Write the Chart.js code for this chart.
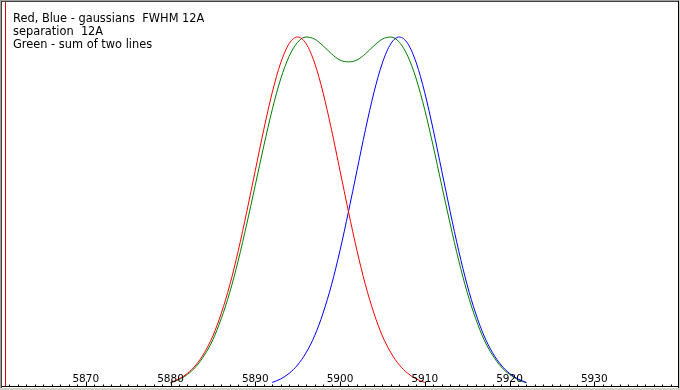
<!DOCTYPE html>
<html>
<head>
<meta charset="utf-8">
<script src="https://cdn.jsdelivr.net/npm/chart.js@4"></script>
<style>
  html, body { margin: 0; padding: 0; background: #fff; }
  #wrap { width: 680px; height: 390px; position: relative; }
</style>
</head>
<body>
<div id="wrap"><canvas id="gauss" width="680" height="390"></canvas></div>
<script>
// wavelength grid (A), one point per angstrom
const wavelengths = [
  5880, 5881, 5882, 5883, 5884, 5885, 5886, 5887, 5888, 5889,
  5890, 5891, 5892, 5893, 5894, 5895, 5896, 5897, 5898, 5899,
  5900, 5901, 5902, 5903, 5904, 5905, 5906, 5907, 5908, 5909,
  5910, 5911, 5912, 5913, 5914, 5915, 5916, 5917, 5918, 5919,
  5920, 5921, 5922
];

// red line, centre ~5895
const redLine = [
  0.013, 0.023, 0.039, 0.063, 0.098, 0.146, 0.211, 0.292, 0.390, 0.501,
  0.618, 0.735, 0.841, 0.926, 0.981, 1.000, 0.981, 0.926, 0.841, 0.735,
  0.618, 0.501, 0.390, 0.292, 0.211, 0.146, 0.098, 0.063, 0.039, 0.023,
  0.013, null, null, null, null, null, null, null, null, null,
  null, null, null
];

// blue line, centre ~5907
const blueLine = [
  null, null, null, null, null, null, null, null, null, null,
  null, null, 0.013, 0.023, 0.039, 0.063, 0.098, 0.146, 0.211, 0.292,
  0.390, 0.501, 0.618, 0.735, 0.841, 0.926, 0.981, 1.000, 0.981, 0.926,
  0.841, 0.735, 0.618, 0.501, 0.390, 0.292, 0.211, 0.146, 0.098, 0.063,
  0.039, 0.023, 0.013
];

// green = sum of both, scaled to the same peak
const greenSum = [
  0.012, 0.021, 0.036, 0.058, 0.091, 0.135, 0.196, 0.271, 0.362, 0.466,
  0.576, 0.688, 0.792, 0.880, 0.945, 0.985, 1.000, 0.994, 0.975, 0.952,
  0.934, 0.929, 0.934, 0.952, 0.975, 0.994, 1.000, 0.985, 0.945, 0.880,
  0.792, 0.688, 0.576, 0.466, 0.362, 0.271, 0.196, 0.135, 0.091, 0.058,
  0.036, 0.021, 0.012
];

const tickLabels = [5870, 5880, 5890, 5900, 5910, 5920, 5930];
const noteLines = [
  'Red, Blue - gaussians  FWHM 12A',
  'separation  12A',
  'Green - sum of two lines'
];
const markerPos = 5860.5;

function toPoints(values) {
  return wavelengths
    .map((w, i) => ({ x: w, y: values[i] }))
    .filter(p => p.y !== null);
}

const TICK_FONT = '10.5px "DejaVu Sans", Tahoma, sans-serif';
const NOTE_FONT = '11.4px "DejaVu Sans", Tahoma, sans-serif';

// frame, axis, ticks, marker and notes
const framePlugin = {
  id: 'frame',
  beforeDraw(chart) {
    const c = chart.ctx;
    c.save();
    c.fillStyle = '#fff';
    c.fillRect(0, 0, chart.width, chart.height);
    c.restore();
  },
  afterDraw(chart) {
    const c = chart.ctx;
    const xs = chart.scales.x;
    const W = chart.width, H = chart.height;
    const axisY = 386.5;
    c.save();

    // marker line
    const mx = Math.round(xs.getPixelForValue(markerPos)) + 0.5;
    c.strokeStyle = '#e00000';
    c.lineWidth = 1;
    c.beginPath();
    c.moveTo(mx, 2);
    c.lineTo(mx, axisY);
    c.stroke();

    // axis line + ticks
    c.strokeStyle = '#000';
    c.beginPath();
    c.moveTo(0, axisY);
    c.lineTo(W, axisY);
    for (let v = 5860; v <= 5940; v++) {
      const px = Math.round(xs.getPixelForValue(v)) + 0.5;
      const len = v % 10 === 0 ? 5 : 2;
      c.moveTo(px, axisY);
      c.lineTo(px, axisY - len);
    }
    c.stroke();

    // tick labels
    c.fillStyle = '#000';
    c.font = TICK_FONT;
    c.textAlign = 'center';
    c.textBaseline = 'alphabetic';
    tickLabels.forEach(t => {
      c.fillText(String(t), xs.getPixelForValue(t), 382);
    });

    // notes
    c.font = NOTE_FONT;
    c.textAlign = 'left';
    noteLines.forEach((line, i) => {
      c.fillText(line, 13, 22 + i * 13);
    });

    // sunken border
    c.fillStyle = '#a0a0a0';
    c.fillRect(0, 0, W, 1);
    c.fillRect(0, 0, 1, H);
    c.fillStyle = '#404040';
    c.fillRect(1, 1, W - 2, 1);
    c.fillRect(1, 1, 1, H - 2);
    c.fillStyle = '#000';
    c.fillRect(W - 2, 1, 1, H - 2);
    c.fillStyle = '#d4d0c8';
    c.fillRect(W - 1, 0, 1, H);
    c.fillRect(0, H - 2, W, 2);
    c.restore();
  }
};

new Chart(document.getElementById('gauss'), {
  type: 'line',
  data: {
    datasets: [
      {
        label: 'red',
        data: toPoints(redLine),
        borderColor: '#ff0000',
        borderWidth: 1,
        pointRadius: 0,
        cubicInterpolationMode: 'monotone',
        fill: false
      },
      {
        label: 'blue',
        data: toPoints(blueLine),
        borderColor: '#0000ff',
        borderWidth: 1,
        pointRadius: 0,
        cubicInterpolationMode: 'monotone',
        fill: false
      },
      {
        label: 'green',
        data: toPoints(greenSum),
        borderColor: '#008000',
        borderWidth: 1,
        pointRadius: 0,
        cubicInterpolationMode: 'monotone',
        fill: false
      }
    ]
  },
  options: {
    responsive: false,
    animation: false,
    devicePixelRatio: 1,
    layout: { padding: { left: 1, right: 1, top: 2, bottom: 3 } },
    plugins: {
      legend: { display: false },
      tooltip: { enabled: false }
    },
    scales: {
      x: { type: 'linear', min: 5860, max: 5940, display: false },
      y: { min: 0, max: 1.1, display: false }
    }
  },
  plugins: [framePlugin]
});
</script>
</body>
</html>
